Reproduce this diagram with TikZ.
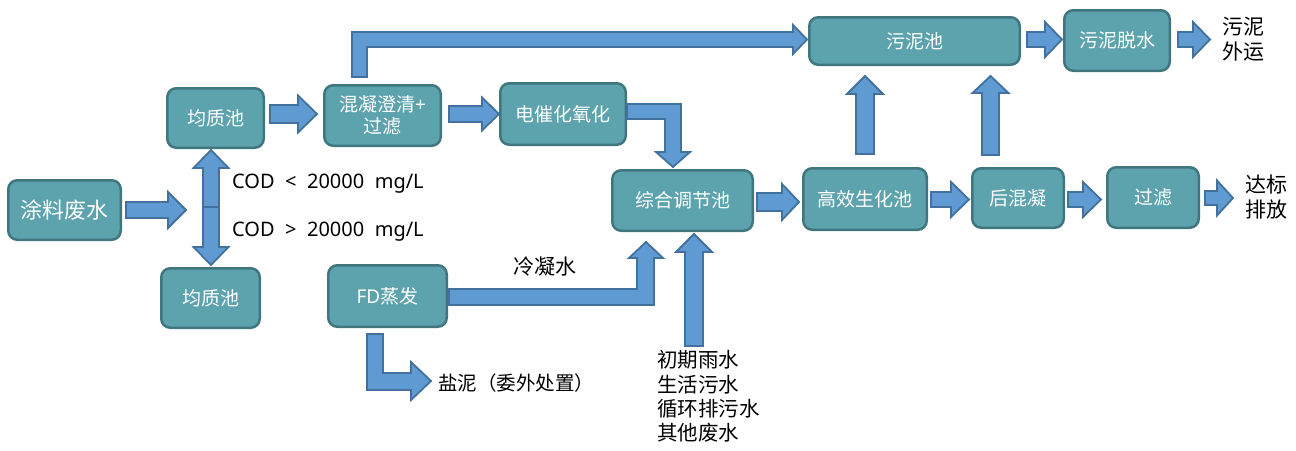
\documentclass[tikz,border=0pt]{standalone}
\usepackage{fontspec}
\setmainfont{Noto Sans CJK SC}
\newfontfamily\latinf{Noto Sans}
\definecolor{boxfill}{HTML}{5CA3AE}
\definecolor{boxline}{HTML}{40777F}
\definecolor{arrfill}{HTML}{5F9BD2}
\definecolor{arrline}{HTML}{41719C}
% horizontal block arrow: x-start, head-base x, tip x, y-centre, half shaft, half head
\newcommand\HArr[6]{\draw[barrow] (#1,{#4-#5}) -- (#2,{#4-#5}) -- (#2,{#4-#6}) -- (#3,#4) -- (#2,{#4+#6}) -- (#2,{#4+#5}) -- (#1,{#4+#5}) -- cycle;}
% vertical block arrow: x-centre, y-start, head-base y, tip y, half shaft, half head
\newcommand\VArr[6]{\draw[barrow] ({#1-#5},#2) -- ({#1-#5},#3) -- ({#1-#6},#3) -- (#1,#4) -- ({#1+#6},#3) -- ({#1+#5},#3) -- ({#1+#5},#2) -- cycle;}
\newcommand\wsp{\hspace{10.5pt}}
\begin{document}
\begin{tikzpicture}[x=1pt,y=-1pt,
  box/.style={draw=boxline, fill=boxfill, line width=2.5pt, rounded corners=9pt,
    text=white, font=\fontsize{19}{22}\selectfont, align=center, inner sep=0pt},
  barrow/.style={draw=arrline, fill=arrfill, line width=1.8pt, line join=miter},
  lbl/.style={font=\fontsize{20.5}{24.4}\selectfont, inner sep=0pt, align=left, text=black}]
\useasboundingbox (0,0) rectangle (1296,450);

% boxes
\node[box, minimum width=112.5pt, minimum height=59.5pt, font=\fontsize{22}{26}\selectfont] (tl) at (64.5,210) {涂料废水};
\node[box, minimum width=96.5pt, minimum height=59.5pt] (jz1) at (215.5,118) {均质池};
\node[box, minimum width=116.5pt, minimum height=60.5pt] (hn) at (382.5,115.5) {混凝澄清{\latinf +}\\过滤};
\node[box, minimum width=125.5pt, minimum height=61.5pt] (dc) at (563,114) {电催化氧化};
\node[box, minimum width=210.5pt, minimum height=47.5pt] (wn) at (914.5,41) {污泥池};
\node[box, minimum width=105.5pt, minimum height=60.5pt] (ws) at (1117,40.5) {污泥脱水};
\node[box, minimum width=140.5pt, minimum height=60.5pt] (zh) at (682.5,200.5) {综合调节池};
\node[box, minimum width=123.5pt, minimum height=61.5pt] (gx) at (865,199) {高效生化池};
\node[box, minimum width=91.5pt, minimum height=59.5pt] (hh) at (1018,198) {后混凝};
\node[box, minimum width=91.5pt, minimum height=60.5pt] (gl) at (1153,197.5) {过滤};
\node[box, minimum width=98.5pt, minimum height=59.5pt] (jz2) at (210.5,298) {均质池};
\node[box, minimum width=118.5pt, minimum height=61.5pt] (fd) at (387.5,296) {{\latinf FD}蒸发};

% straight block arrows
\HArr{126}{168}{186}{210}{8}{18}
\HArr{270}{298}{317}{114}{9}{18.5}
\HArr{449}{482}{499}{114}{8}{16.5}
\HArr{757}{782}{799}{202}{9}{18}
\HArr{931}{951}{969}{199.5}{7.5}{17.5}
\HArr{1068}{1083}{1101}{199.5}{7.5}{17.5}
\HArr{1205}{1217}{1233}{198}{7}{17.5}
\HArr{1027}{1045}{1062}{39.5}{7.5}{17.5}
\HArr{1178}{1193}{1210}{39.5}{7.5}{17.5}
\VArr{211}{207}{168}{150}{8}{17.5}
\VArr{211}{207}{247}{265}{8}{17.5}
\VArr{865}{154}{94}{76}{9}{18}
\VArr{990.5}{155}{93}{76}{8.5}{18}
\VArr{694}{346}{252}{234}{9}{18}

% elbow block arrows
\draw[barrow] (352,77) -- (352,32) -- (793,32) -- (793,25) -- (807,39.5) -- (793,54) -- (793,47) -- (367,47) -- (367,77) -- cycle;
\draw[barrow] (627,104) -- (681,104) -- (681,152) -- (690,152) -- (673,167) -- (656,152) -- (665,152) -- (665,119) -- (627,119) -- cycle;
\draw[barrow] (449,289) -- (637,289) -- (637,258) -- (629,258) -- (646,242) -- (663,258) -- (654,258) -- (654,305) -- (449,305) -- cycle;
\draw[barrow] (367,334) -- (383,334) -- (383,373) -- (411,373) -- (411,362) -- (431,381) -- (411,400) -- (411,390) -- (367,390) -- cycle;

% labels
\node[lbl, anchor=west, font=\latinf\fontsize{20}{24}\selectfont] (c1) at (232,184) {COD\wsp<\wsp20000\wsp mg/L};
\node[lbl, anchor=west, font=\latinf\fontsize{20}{24}\selectfont] (c2) at (232,232) {COD\wsp>\wsp20000\wsp mg/L};
\node[lbl, font=\fontsize{21}{25}\selectfont] (lns) at (545,267) {冷凝水};
\node[lbl, anchor=west, font=\fontsize{19.5}{24}\selectfont] (yn) at (438,383) {盐泥（委外处置）};
\node[lbl, anchor=west] (qt) at (657,396.5) {初期雨水\\生活污水\\循环排污水\\其他废水};
\node[lbl, anchor=west, font=\fontsize{21}{25.5}\selectfont] (wy) at (1222,39) {污泥\\外运};
\node[lbl, anchor=west, font=\fontsize{21}{25}\selectfont] (db) at (1245,197.5) {达标\\排放};
\end{tikzpicture}
\end{document}
